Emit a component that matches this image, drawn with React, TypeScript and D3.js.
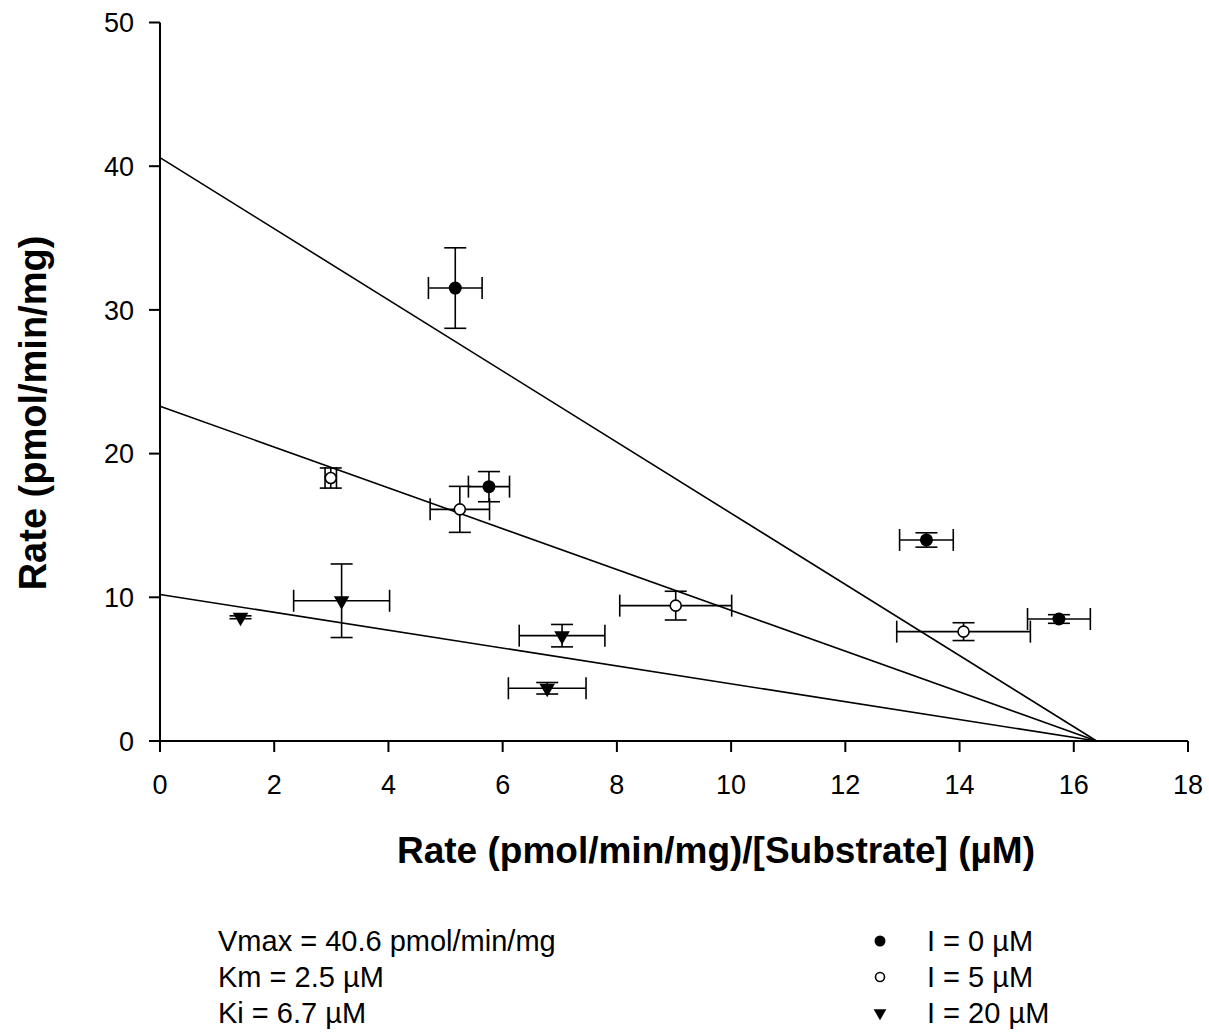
import React from 'react'
import * as d3 from 'd3'

// ticks
const xTicks = [0, 2, 4, 6, 8, 10, 12, 14, 16, 18]
const yTicks = [0, 10, 20, 30, 40, 50]

// I = 0 uM
const s0X = [5.17, 5.76, 13.42, 15.74]
const s0Y = [31.52, 17.7, 13.99, 8.49]
const s0Xerr = [0.47, 0.36, 0.47, 0.55]
const s0Yerr = [2.8, 1.05, 0.5, 0.3]

// I = 5 uM
const s5X = [2.99, 5.25, 9.03, 14.07]
const s5Y = [18.3, 16.12, 9.42, 7.61]
const s5Xerr = [0.1, 0.52, 0.98, 1.17]
const s5Yerr = [0.7, 1.6, 1.0, 0.62]

// I = 20 uM
const s20X = [1.41, 3.18, 7.04, 6.78]
const s20Y = [8.61, 9.76, 7.33, 3.67]
const s20Xerr = [0, 0.84, 0.75, 0.68]
const s20Yerr = [0.1, 2.56, 0.78, 0.4]

// fitted lines: y intercepts, common x intercept
const lineIntercepts = [40.6, 23.3, 10.2]
const xIntercept = 16.4

const legendLabels = ['I = 0 µM', 'I = 5 µM', 'I = 20 µM']
const noteLines = ['Vmax = 40.6 pmol/min/mg', 'Km = 2.5 µM', 'Ki = 6.7 µM']

const font = 'Liberation Sans, Arial, Helvetica, sans-serif'

export default function App() {
  const width = 1209
  const height = 1032
  const x = d3.scaleLinear().domain([0, 18]).range([160, 1188])
  const y = d3.scaleLinear().domain([0, 50]).range([741, 22.5])

  const series = [
    { xs: s0X, ys: s0Y, xe: s0Xerr, ye: s0Yerr, kind: 'filled' },
    { xs: s5X, ys: s5Y, xe: s5Xerr, ye: s5Yerr, kind: 'open' },
    { xs: s20X, ys: s20Y, xe: s20Xerr, ye: s20Yerr, kind: 'tri' },
  ]

  const line = d3.line<[number, number]>()
    .x(d => x(d[0]))
    .y(d => y(d[1]))

  const tri = (size: number) => d3.symbol().type(d3.symbolTriangle).size(size)() as string
  const cap = 11
  const sw = 1.6

  const marker = (kind: string, cx: number, cy: number, small: boolean, key: string) => {
    if (kind === 'filled') {
      return <circle key={key} cx={cx} cy={cy} r={small ? 5.5 : 6.5} fill="#000" />
    }
    if (kind === 'open') {
      return <circle key={key} cx={cx} cy={cy} r={small ? 4.5 : 5.5} fill="#fff" stroke="#000" strokeWidth={1.6} />
    }
    return (
      <path key={key} d={tri(small ? 70 : 105)} fill="#000"
        transform={`translate(${cx},${cy}) rotate(180)`} />
    )
  }

  return (
    <svg width={width} height={height} style={{ position: 'absolute', left: 0, top: 0, background: '#fff' }}
      fontFamily={font}>
      <rect width={width} height={height} fill="#fff" />

      {/* Axes */}
      <g stroke="#000" strokeWidth={2} fill="none">
        <line x1={x(0)} x2={x(0)} y1={y(50)} y2={y(0)} />
        <line x1={x(0)} x2={x(18)} y1={y(0)} y2={y(0)} />
        {yTicks.map(t => (
          <line key={'yt' + t} x1={x(0) - 11} x2={x(0)} y1={y(t)} y2={y(t)} />
        ))}
        {xTicks.map(t => (
          <line key={'xt' + t} x1={x(t)} x2={x(t)} y1={y(0)} y2={y(0) + 11} />
        ))}
      </g>
      {yTicks.map(t => (
        <text key={'yl' + t} x={134} y={y(t)} dy="0.36em" textAnchor="end" fontSize={27}>{t}</text>
      ))}
      {xTicks.map(t => (
        <text key={'xl' + t} x={x(t)} y={794} textAnchor="middle" fontSize={27}>{t}</text>
      ))}

      {/* Axis titles */}
      <text x={716} y={863} textAnchor="middle" fontSize={37} fontWeight="bold">
        Rate (pmol/min/mg)/[Substrate] (µM)
      </text>
      <text transform="translate(46,413) rotate(-90)" textAnchor="middle" fontSize={38} fontWeight="bold">
        Rate (pmol/min/mg)
      </text>

      {/* Fitted lines */}
      <g stroke="#000" strokeWidth={1.6} fill="none">
        {lineIntercepts.map((b, i) => (
          <path key={'fit' + i} d={line([[0, b], [xIntercept, 0]]) as string} />
        ))}
      </g>

      {/* Error bars */}
      <g stroke="#000" strokeWidth={sw} fill="none">
        {series.map((s, si) => s.xs.map((xv, i) => {
          const cx = x(xv)
          const cy = y(s.ys[i])
          const x1 = x(xv - s.xe[i])
          const x2 = x(xv + s.xe[i])
          const y1 = y(s.ys[i] + s.ye[i])
          const y2 = y(s.ys[i] - s.ye[i])
          return (
            <g key={`eb${si}-${i}`}>
              {s.ye[i] > 0 && (
                <>
                  <line x1={cx} x2={cx} y1={y1} y2={y2} />
                  <line x1={cx - cap} x2={cx + cap} y1={y1} y2={y1} />
                  <line x1={cx - cap} x2={cx + cap} y1={y2} y2={y2} />
                </>
              )}
              {s.xe[i] > 0 && (
                <>
                  <line x1={x1} x2={x2} y1={cy} y2={cy} />
                  <line x1={x1} x2={x1} y1={cy - cap} y2={cy + cap} />
                  <line x1={x2} x2={x2} y1={cy - cap} y2={cy + cap} />
                </>
              )}
            </g>
          )
        }))}
      </g>

      {/* Markers */}
      {series.map((s, si) => s.xs.map((xv, i) =>
        marker(s.kind, x(xv), y(s.ys[i]), false, `m${si}-${i}`)
      ))}

      {/* Parameters */}
      {noteLines.map((t, i) => (
        <text key={'note' + i} x={218} y={951 + i * 36} fontSize={29}>{t}</text>
      ))}

      {/* Legend */}
      {legendLabels.map((t, i) => (
        <g key={'lg' + i}>
          {marker(series[i].kind, 880, 941 + i * 36, true, 'lgm' + i)}
          <text x={927} y={951 + i * 36} fontSize={29}>{t}</text>
        </g>
      ))}
    </svg>
  )
}
